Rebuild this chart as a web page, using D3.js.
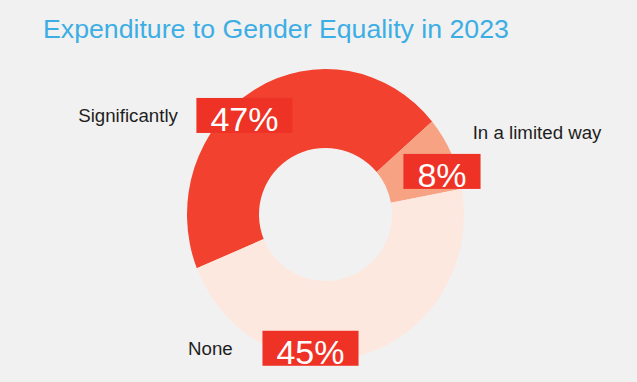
<!DOCTYPE html>
<html>
<head>
<meta charset="utf-8">
<script src="https://cdn.jsdelivr.net/npm/d3@7"></script>
<style>
  html, body { margin: 0; padding: 0; background: #f1f1f1; }
  svg { display: block; }
</style>
</head>
<body>
<div id="chart"></div>
<script>
var categories = ["Significantly", "In a limited way", "None"];
var shares = [45.0, 8.2, 46.8];
// printed percentage labels
var pctLabels = ["47%", "8%", "45%"];
var sliceColors = ["#f2412e", "#f6a283", "#fde8df"];

var conf = {
	width: 637, height: 382,
	cx: 325.5, cy: 214.5,
	rx: 138.5, ry: 145.5, inner: 66.5,
	startDeg: -111.7,
	boxColor: "#ef3226"
};

// label box placement: polar spot (deg clockwise from top, distance) + name offset
var labelSpots = {
	"Significantly":    { deg: -39.3, dist: 128, nameDx: -66.5, nameDy: 6.8, anchor: "end" },
	"In a limited way": { deg: 69.7,  dist: 124.2, nameDx: 30.7, nameDy: -32, anchor: "start" },
	"None":             { deg: 186.4, dist: 134.6, nameDx: -122.5, nameDy: 6.7, anchor: "start" }
};

var $svg = d3.select("#chart").append("svg")
	.attr("width", conf.width)
	.attr("height", conf.height);

$svg.append("rect")
	.attr("width", conf.width)
	.attr("height", conf.height)
	.attr("fill", "#f1f1f1");

$svg.append("text")
	.attr("x", 43)
	.attr("y", 38)
	.attr("fill", "#3daee4")
	.style("font-family", "'Liberation Sans', Arial, sans-serif")
	.style("font-size", "26.7px")
	.text("Expenditure to Gender Equality in 2023");

var data = categories.map(function(c, i) {
	return { name: c, value: shares[i], label: pctLabels[i], color: sliceColors[i] };
});

var start = conf.startDeg * Math.PI / 180;
var pie = d3.pie()
	.value(function(d) { return d.value; })
	.sort(null)
	.startAngle(start)
	.endAngle(start + 2 * Math.PI);

// ring slice with elliptical outer edge and circular hole
var ringPath = function(d) {
	var a0 = d.startAngle, a1 = d.endAngle;
	var large = (a1 - a0) > Math.PI ? 1 : 0;
	var ox = function(a) { return conf.rx * Math.sin(a); };
	var oy = function(a) { return -conf.ry * Math.cos(a); };
	var ix = function(a) { return conf.inner * Math.sin(a); };
	var iy = function(a) { return -conf.inner * Math.cos(a); };
	return "M" + ox(a0) + "," + oy(a0) +
		"A" + conf.rx + "," + conf.ry + " 0 " + large + " 1 " + ox(a1) + "," + oy(a1) +
		"L" + ix(a1) + "," + iy(a1) +
		"A" + conf.inner + "," + conf.inner + " 0 " + large + " 0 " + ix(a0) + "," + iy(a0) +
		"Z";
};

var $ring = $svg.append("g")
	.attr("transform", "translate(" + conf.cx + "," + conf.cy + ")");

$ring.selectAll("path.slice")
	.data(pie(data))
	.enter()
	.append("path")
	.attr("class", "slice")
	.attr("d", ringPath)
	.attr("fill", function(d) { return d.data.color; });

// labels
var $labels = $ring.selectAll("g.label")
	.data(pie(data))
	.enter()
	.append("g")
	.attr("class", "label")
	.attr("transform", function(d) {
		var s = labelSpots[d.data.name];
		var a = s.deg * Math.PI / 180;
		return "translate(" + (s.dist * Math.sin(a)) + "," + (-s.dist * Math.cos(a)) + ")";
	});

$labels.append("text")
	.attr("x", function(d) { return labelSpots[d.data.name].nameDx; })
	.attr("y", function(d) { return labelSpots[d.data.name].nameDy; })
	.attr("text-anchor", function(d) { return labelSpots[d.data.name].anchor; })
	.attr("fill", "#1e1e1e")
	.style("font-family", "'Liberation Sans', Arial, sans-serif")
	.style("font-size", "18.7px")
	.text(function(d) { return d.data.name; });

var $boxes = $labels.append("rect")
	.attr("fill", conf.boxColor);

var $pct = $labels.append("text")
	.attr("text-anchor", "middle")
	.attr("y", 16)
	.attr("fill", "#ffffff")
	.style("font-family", "'Liberation Sans', Arial, sans-serif")
	.style("font-size", "34px")
	.text(function(d) { return d.data.label; });

$pct.each(function(d, i) {
	var w = this.getComputedTextLength() + 28;
	d3.select($boxes.nodes()[i])
		.attr("x", -w / 2)
		.attr("y", -17.5)
		.attr("width", w)
		.attr("height", 35);
});
</script>
</body>
</html>
